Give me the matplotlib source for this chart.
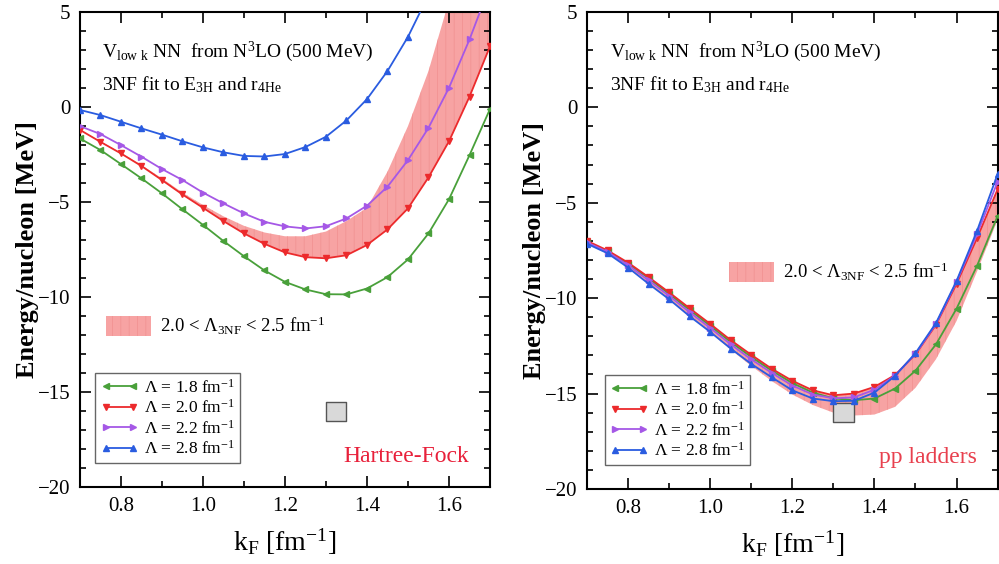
import matplotlib
matplotlib.use("Agg")
import matplotlib.pyplot as plt
from matplotlib.patches import Patch
from matplotlib.ticker import MultipleLocator

plt.rcParams["font.family"] = ["Liberation Serif", "DejaVu Serif"]
plt.rcParams["mathtext.fontset"] = "custom"
plt.rcParams["mathtext.rm"] = "Liberation Serif"
plt.rcParams["mathtext.it"] = "Liberation Serif:italic"
plt.rcParams["mathtext.bf"] = "Liberation Serif:bold"
plt.rcParams["hatch.linewidth"] = 0.5

# Fermi momentum grid (fm^-1)
kf = [0.70, 0.75, 0.80, 0.85, 0.90, 0.95, 1.00, 1.05, 1.10, 1.15, 1.20,
      1.25, 1.30, 1.35, 1.40, 1.45, 1.50, 1.55, 1.60, 1.65, 1.70]

# Hartree-Fock energies per nucleon (MeV)
hf_18 = [-1.65, -2.26, -3.0, -3.75, -4.54, -5.38, -6.2, -7.05, -7.85, -8.6, -9.2,
         -9.6, -9.85, -9.86, -9.55, -8.95, -8.02, -6.65, -4.85, -2.53, -0.1]
hf_20 = [-1.2, -1.83, -2.44, -3.1, -3.84, -4.6, -5.3, -6.0, -6.65, -7.2, -7.65,
         -7.9, -7.96, -7.8, -7.26, -6.44, -5.33, -3.7, -1.8, 0.55, 3.2]
hf_22 = [-1.0, -1.42, -2.0, -2.61, -3.26, -3.84, -4.5, -5.07, -5.6, -6.04, -6.28,
         -6.39, -6.27, -5.86, -5.19, -4.19, -2.79, -1.09, 1.02, 3.56, 6.4]
hf_28 = [-0.15, -0.42, -0.77, -1.12, -1.45, -1.8, -2.12, -2.38, -2.57, -2.6, -2.47,
         -2.1, -1.56, -0.7, 0.42, 1.9, 3.7, 5.9, 8.5, 11.4, 14.7]
hf_band_hi = [-1.2, -1.8, -2.4, -3.05, -3.75, -4.5, -5.15, -5.75, -6.25, -6.6, -6.8,
              -6.8, -6.55, -6.0, -5.3, -3.4, -1.0, 1.9, 5.6, 9.5, 14.0]
hf_band_lo = hf_20

# pp-ladder energies per nucleon (MeV)
pp_18 = [-7.05, -7.55, -8.2, -8.95, -9.78, -10.62, -11.45, -12.3, -13.08, -13.8, -14.45,
         -14.95, -15.25, -15.35, -15.26, -14.74, -13.8, -12.42, -10.55, -8.3, -5.7]
pp_20 = [-7.0, -7.5, -8.14, -8.9, -9.7, -10.53, -11.35, -12.2, -12.97, -13.7, -14.33,
         -14.83, -15.09, -15.0, -14.65, -14.03, -12.95, -11.4, -9.25, -6.85, -4.3]
pp_22 = [-7.08, -7.58, -8.27, -9.07, -9.88, -10.74, -11.56, -12.42, -13.21, -13.92, -14.58,
         -15.05, -15.25, -15.2, -14.8, -14.06, -12.92, -11.35, -9.15, -6.65, -3.9]
pp_28 = [-7.15, -7.65, -8.4, -9.25, -10.06, -10.95, -11.77, -12.64, -13.45, -14.15, -14.83,
         -15.26, -15.4, -15.38, -14.95, -14.08, -12.88, -11.3, -9.1, -6.47, -3.5]
pp_band_hi = pp_20
pp_band_lo = [-7.15, -7.65, -8.4, -9.25, -10.06, -10.95, -11.8, -12.7, -13.55, -14.35, -15.05,
              -15.6, -16.0, -16.15, -16.1, -15.7, -14.7, -13.2, -11.2, -8.6, -5.9]

# empirical saturation region
box_kf = [1.30, 1.35]
box_e = [-16.5, -15.5]

cutoffs = ["1.8", "2.0", "2.2", "2.8"]
colors = ["#49a03a", "#ec2a2c", "#a558e6", "#2a5ce0"]
markers = ["<", "v", ">", "^"]
band_color = "#f7a3a3"
band_hatch = "#f09090"


def draw_panel(ax, curves, band_lo, band_hi, method, method_color, band_pos, leg_x):
    ax.fill_between(kf, band_lo, band_hi, facecolor=band_color, edgecolor=band_hatch,
                    hatch="||", linewidth=0, zorder=1)
    ax.fill_between(box_kf, box_e[0], box_e[1], facecolor="#d9d9d9", edgecolor="#555555",
                    linewidth=1.0, zorder=3)
    handles = []
    for vals, cut, c, m in zip(curves, cutoffs, colors, markers):
        ln, = ax.plot(kf, vals, color=c, marker=m, markersize=5, linewidth=1.3,
                      label=r"$\Lambda$ = %s fm$^{-1}$" % cut, zorder=4)
        handles.append(ln)

    ax.set_xlim(0.7, 1.7)
    ax.set_ylim(-20, 5)
    ax.xaxis.set_minor_locator(MultipleLocator(0.1))
    ax.yaxis.set_major_locator(MultipleLocator(5))
    ax.yaxis.set_minor_locator(MultipleLocator(1))
    ax.set_xticks([0.8, 1.0, 1.2, 1.4, 1.6])
    ax.set_xticklabels(["0.8", "1.0", "1.2", "1.4", "1.6"])
    ax.tick_params(which="both", direction="in", top=True, right=True, labelsize=15,
                   width=1.2)
    ax.tick_params(which="major", length=8, pad=7)
    ax.tick_params(which="minor", length=4)
    for sp in ax.spines.values():
        sp.set_linewidth(1.5)

    ax.set_xlabel(r"k$_\mathregular{F}$ [fm$^{-1}$]", fontsize=20, labelpad=8)
    ax.set_ylabel("Energy/nucleon [MeV]", fontsize=19, fontweight="bold")
    ax.yaxis.set_label_coords(-0.10, 0.5)

    ax.text(0.055, 0.905, r"V$_\mathregular{low\ k}$ NN  from N$^3$LO (500 MeV)",
            transform=ax.transAxes, fontsize=14, va="baseline")
    ax.text(0.055, 0.835, r"3NF fit to E$_\mathregular{3H}$ and r$_\mathregular{4He}$",
            transform=ax.transAxes, fontsize=14, va="baseline")
    ax.text(0.95, 0.065, method, transform=ax.transAxes, fontsize=17, color=method_color,
            ha="right", va="center")

    leg = ax.legend(handles=handles, loc="lower left", bbox_to_anchor=(leg_x, 0.05),
                    numpoints=2, fontsize=12.5, handlelength=2.2, labelspacing=0.15,
                    handletextpad=0.3, borderpad=0.3, borderaxespad=0, fancybox=False,
                    edgecolor="#666666", framealpha=1)
    leg.get_frame().set_linewidth(1.0)
    ax.add_artist(leg)

    band_handle = Patch(facecolor=band_color, edgecolor=band_hatch, hatch="||", linewidth=0)
    ax.legend(handles=[band_handle],
              labels=[r"2.0 < $\Lambda_\mathregular{3NF}$ < 2.5 fm$^{-1}$"],
              loc="center left", bbox_to_anchor=band_pos, frameon=False, fontsize=13.5,
              handlelength=2.4, handleheight=1.3, handletextpad=0.5, borderaxespad=0)


fig = plt.figure(figsize=(9.99, 5.64), dpi=100)
ax1 = fig.add_axes([0.080, 0.1365, 0.4105, 0.842])
ax2 = fig.add_axes([0.5876, 0.133, 0.411, 0.846])

draw_panel(ax1, [hf_18, hf_20, hf_22, hf_28], hf_band_lo, hf_band_hi,
           "Hartree-Fock", "#e8203a", (0.045, 0.339), 0.037)
draw_panel(ax2, [pp_18, pp_20, pp_22, pp_28], pp_band_lo, pp_band_hi,
           "pp ladders", "#e8404e", (0.327, 0.455), 0.044)

fig.savefig("out.png", dpi=100)
